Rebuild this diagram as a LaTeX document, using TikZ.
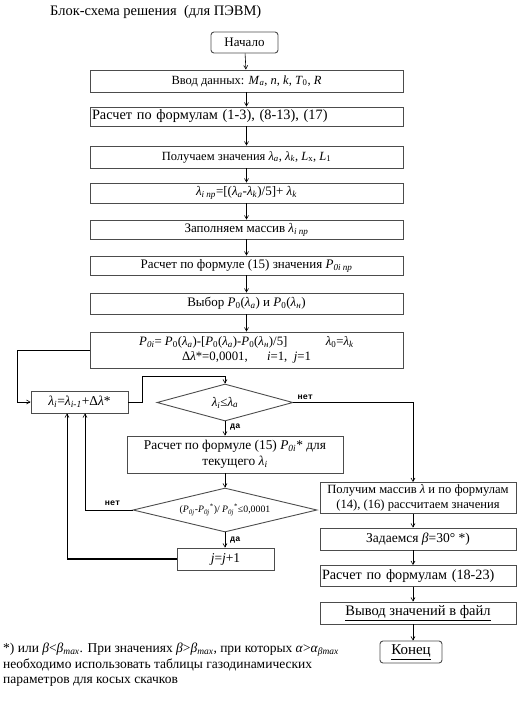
\documentclass[tikz,border=0pt]{standalone}
\usepackage{fontspec}
\setmainfont{Liberation Serif}
\newfontfamily\labfont{Liberation Mono}
\usetikzlibrary{arrows.meta,shapes.geometric,calc}
\newcommand{\Lm}{\textit{λ}}
\newcommand{\sub}[1]{\textsubscript{#1}}
\newcommand{\isub}[1]{\textsubscript{\textit{#1}}}
\newcommand{\fs}[1]{\fontsize{#1}{#1}\selectfont}
\begin{document}
\begin{tikzpicture}[x=1pt,y=-1pt,
  box/.style={draw=black!70,line width=0.9pt,inner sep=1pt,align=center,font=\fs{12.5}},
  wbox/.style={box,minimum width=313pt},
  rbox/.style={box,minimum width=196pt},
  term/.style={box,rounded corners=3pt},
  dia/.style={draw=black!70,line width=0.9pt,diamond,inner sep=0pt,align=center,font=\fs{13}},
  arr/.style={-{Straight Barb[length=3.5pt,width=4pt]},line width=0.6pt},
  ln/.style={line width=0.6pt},
  lab/.style={font=\labfont\bfseries\fs{8.5},inner sep=1pt}]
\useasboundingbox (0,0) rectangle (525,701);
\node[anchor=west,font=\fs{14.5},inner sep=0pt] (title) at (50,12) {Блок-схема решения\ \ (для ПЭВМ)};
\node[term,minimum width=67pt,minimum height=21pt,font=\fs{13}] (start) at (244.5,42.5) {Начало};
\node[wbox,minimum height=22pt] (b1) at (246.5,81) {Ввод данных: \textit{M}\isub{a}, \textit{n}, \textit{k}, \textit{T}\sub{0}, \textit{R}};
\node[wbox,minimum height=19pt,text width=309pt,align=left,font=\fs{14.3}] (b2) at (246.5,116.5) {Расчет по формулам (1-3), (8-13), (17)};
\node[wbox,minimum height=22pt] (b3) at (246.5,157) {Получаем значения \Lm\isub{a}, \Lm\isub{k}, \textit{L}\sub{x}, \textit{L}\sub{1}};
\node[wbox,minimum height=20pt,font=\fs{13}] (b4) at (246.5,193) {\Lm\isub{i пр}=[(\Lm\isub{a}-\Lm\isub{k})/5]+ \Lm\isub{k}};
\node[wbox,minimum height=19pt,font=\fs{13}] (b5) at (246.5,229.5) {Заполняем массив \Lm\isub{i пр}};
\node[wbox,minimum height=19pt,font=\fs{13}] (b6) at (246.5,265.5) {Расчет по формуле (15) значения \textit{P}\isub{0i пр}};
\node[wbox,minimum height=21pt,font=\fs{13}] (b7) at (246.5,303.5) {Выбор \textit{P}\sub{0}(\Lm\isub{a}) и \textit{P}\sub{0}(\Lm\isub{н})};
\node[wbox,minimum height=36pt,font=\fontsize{12.8}{15}\selectfont] (b8) at (246.5,350) {\textit{P}\isub{0i}= \textit{P}\sub{0}(\Lm\isub{a})-[\textit{P}\sub{0}(\Lm\isub{a})-\textit{P}\sub{0}(\Lm\isub{н})/5]\hspace{3em}\Lm\sub{0}=\Lm\isub{k}\\Δ\Lm*=0,0001,\hspace{1.5em}\textit{i}=1,\ \ \textit{j}=1};
\node[box,minimum width=97pt,minimum height=22pt,font=\fs{13.5}] (lam) at (79.5,402) {\Lm\isub{i}=\Lm\isub{i-1}+Δ\Lm*};
\node[dia,shape aspect=3.68,minimum width=136pt,minimum height=37pt] (d1) at (225,402.5) {\Lm\isub{i}≤\Lm\isub{a}};
\node[box,minimum width=216pt,minimum height=37pt,font=\fontsize{13.4}{16}\selectfont] (b9) at (235,454.5) {Расчет по формуле (15) \textit{P}\isub{0i}* для\\текущего \Lm\isub{i}};
\node[dia,shape aspect=4.18,minimum width=184pt,minimum height=44pt,font=\fs{9.8}] (d2) at (225,510) {(\textit{P}\isub{0j}-\textit{P}\isub{0j}\textsuperscript{*})/ \textit{P}\isub{0j}\textsuperscript{*}≤0,0001};
\node[box,minimum width=97pt,minimum height=22pt,font=\fs{13.5}] (jb) at (225.5,559) {\textit{j}=\textit{j}+1};
\node[rbox,minimum height=31pt,font=\fontsize{12.6}{15}\selectfont] (r1) at (418,498) {Получим массив \Lm{} и по формулам\\(14), (16) рассчитаем значения};
\node[rbox,minimum height=22pt,font=\fs{13.5}] (r2) at (418,539) {Задаемся \textit{β}=30° *)};
\node[rbox,minimum height=21pt,text width=192pt,align=left,font=\fs{14.2}] (r3) at (418,576) {Расчет по формулам (18-23)};
\node[rbox,minimum height=22pt,font=\fs{14.5}] (r4) at (418,613) {\underline{Вывод значений в файл}};
\node[term,minimum width=62pt,minimum height=22pt,font=\fs{15}] (end) at (411,652) {\underline{Конец}};
\node[anchor=north west,align=left,inner sep=0pt,font=\fontsize{13.5}{15.5}\selectfont] (note) at (3,643) {*) или \textit{β}<\textit{β}\isub{max}. При значениях \textit{β}>\textit{β}\isub{max}, при которых \textit{α}>\textit{α}\isub{βmax}\\необходимо использовать таблицы газодинамических\\параметров для косых скачков};
\coordinate (ax) at (413,0);
\coordinate (lx) at (17,0);
\coordinate (nx) at (85,0);
\coordinate (jx) at (67,0);
\coordinate (kx) at (142,0);
\draw[arr] (start) -- (b1);
\draw[arr] (b1) -- (b2);
\draw[arr] (b2) -- (b3);
\draw[arr] (b3) -- (b4);
\draw[arr] (b4) -- (b5);
\draw[arr] (b5) -- (b6);
\draw[arr] (b6) -- (b7);
\draw[arr] (b7) -- (b8);
\draw[arr] (b8.west) -- (lx |- b8.west) -- (lx |- lam.west) -- (lam.west);
\draw[arr] (lam.east) -- (kx |- lam.east) -- ($(kx |- d1.north)+(0,-7)$) -- ($(d1.north)+(0,-7)$) -- (d1.north);
\draw[arr] (d1.east) -- (ax |- d1.east) -- (ax |- r1.north);
\node[lab,anchor=south west] (n1) at ($(d1.east)+(3,-2)$) {нет};
\draw[arr] (d1.south) -- (b9.north -| d1.south);
\node[lab,anchor=west] (y1) at ($(d1.south)+(4,6)$) {да};
\draw[arr] (b9.south -| d2.north) -- (d2.north);
\draw[arr] (d2.west) -- (nx |- d2.west) -- (nx |- lam.south);
\node[lab,anchor=south] (n2) at ($(d2.west)+(-20,-3)$) {нет};
\draw[arr] (d2.south) -- (jb.north -| d2.south);
\node[lab,anchor=west] (y2) at ($(d2.south)+(4,8)$) {да};
\draw[ln,line width=1.6pt] (jb.west) -- (jx |- jb.west);
\draw[arr] (jx |- jb.west) -- (jx |- lam.south);
\draw[arr] (r1.south -| ax) -- (r2.north -| ax);
\draw[arr] (r2.south -| ax) -- (r3.north -| ax);
\draw[arr] (r3.south -| ax) -- (r4.north -| ax);
\draw[arr] (r4.south -| ax) -- (end.north -| ax);
\end{tikzpicture}
\end{document}
